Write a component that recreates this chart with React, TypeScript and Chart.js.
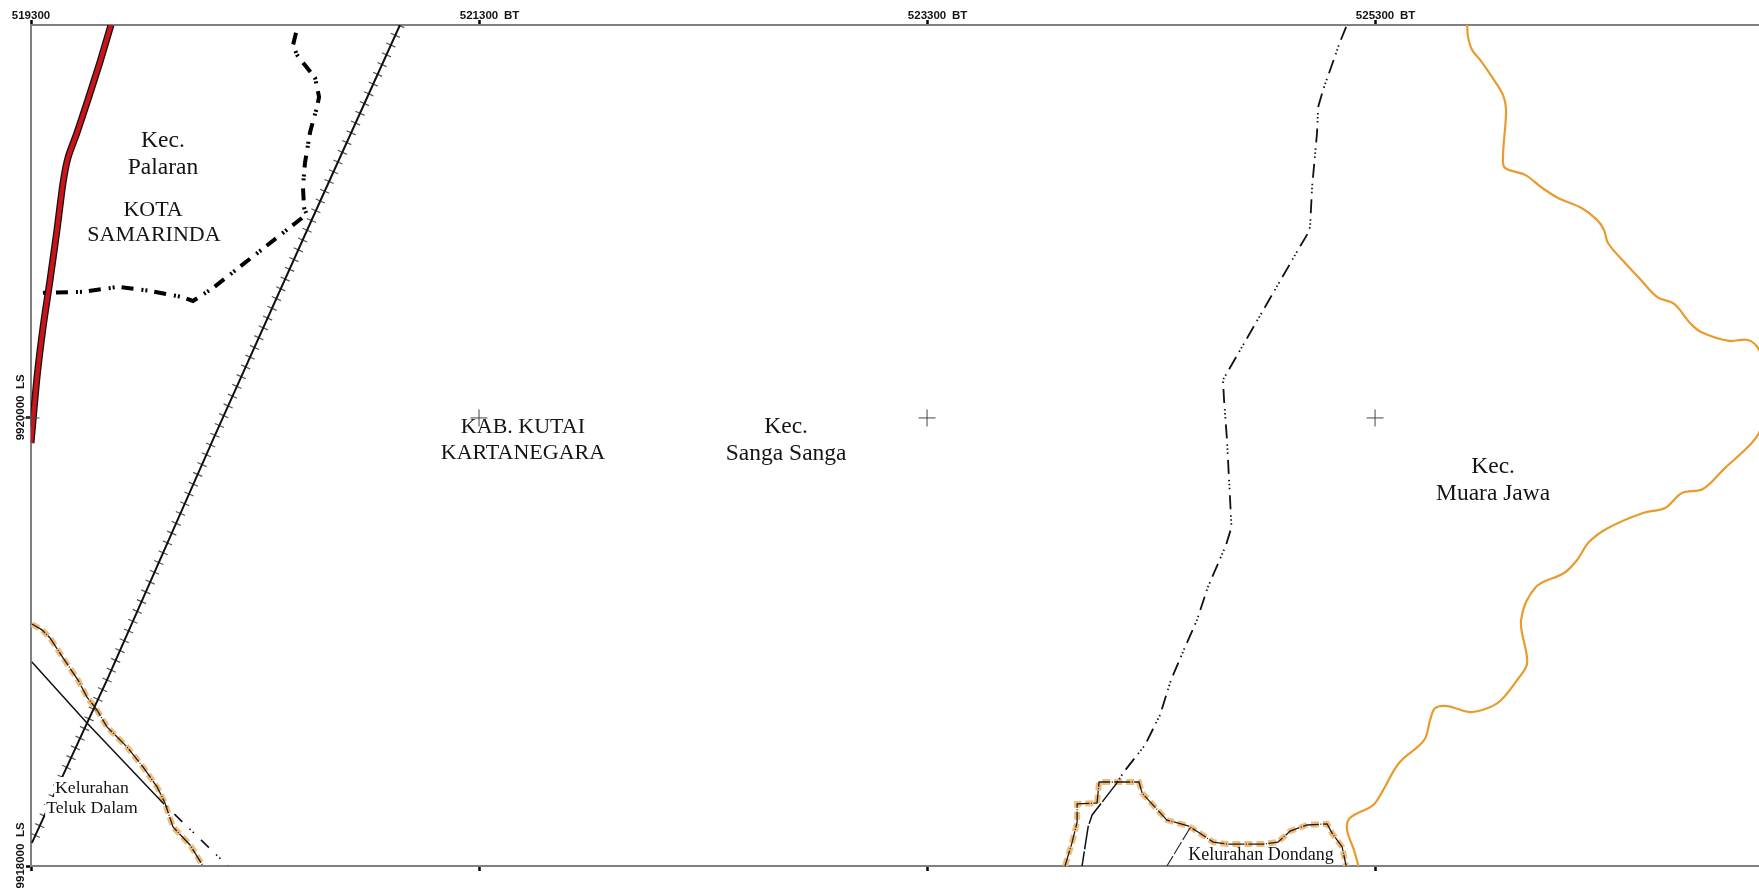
import React, { useEffect, useRef } from "react";
import { Chart, registerables } from "chart.js";

Chart.register(...registerables);

const eastTicks = [519300, 521300, 523300, 525300];
const northTicks = [9918000, 9920000];
const eastMin = 519300;
const eastMax = 527014;
const northMin = 9918000;
const northMax = 9921754;

const roadEast = [519657, 519608, 519554, 519505, 519465, 519443, 519416, 519385, 519354, 519327, 519300];
const roadNorth = [9921754, 9921589, 9921420, 9921272, 9921161, 9921049, 9920839, 9920616, 9920406, 9920183, 9919888];

const cityEast = [520483, 520470, 520487, 520568, 520586, 520577, 520546, 520523, 520514, 520519, 520532, 520510, 520112, 520023, 519974, 519831, 519688, 519532, 519322];
const cityNorth = [9921719, 9921665, 9921621, 9921518, 9921433, 9921388, 9921277, 9921138, 9921031, 9920938, 9920906, 9920893, 9920580, 9920522, 9920540, 9920567, 9920585, 9920563, 9920558];

const railEast = [520947, 520559, 520112, 519639, 519550, 519304];
const railNorth = [9921754, 9920897, 9919902, 9918830, 9918638, 9918103];

const districtEast = [525171, 525142, 525068, 525046, 525041, 525019, 525010, 524996, 524956, 524621, 524626, 524639, 524653, 524659, 524635, 524554, 524505, 524452, 524389, 524340, 524273, 524175, 524148];
const districtNorth = [9921746, 9921674, 9921464, 9921388, 9921272, 9921031, 9920853, 9920817, 9920750, 9920170, 9920080, 9919902, 9919634, 9919513, 9919433, 9919246, 9919098, 9918978, 9918830, 9918674, 9918540, 9918415, 9918371];

const districtLowEast = [524148, 524037, 524019, 523992];
const districtLowNorth = [9918371, 9918228, 9918174, 9918000];

const tellukEast = [519304, 519349, 519385, 519443, 519510, 519550, 519595, 519639, 519729, 519800, 519863, 519898, 519934, 520010, 520068];
const tellukNorth = [9919080, 9919054, 9919018, 9918929, 9918830, 9918754, 9918696, 9918621, 9918531, 9918442, 9918353, 9918281, 9918174, 9918094, 9918000];

const innerEast = [519304, 519550, 519889];
const innerNorth = [9918911, 9918638, 9918281];
const innerDashEast = [519889, 520179];
const innerDashNorth = [9918281, 9918000];

const dondangEast = [523916, 523947, 523970, 523970, 524059, 524068, 524246, 524260, 524309, 524371, 524465, 524510, 524577, 524639, 524800, 524867, 524921, 524996, 525086, 525108, 525153, 525171];
const dondangNorth = [9918000, 9918103, 9918196, 9918277, 9918281, 9918375, 9918375, 9918326, 9918272, 9918205, 9918179, 9918152, 9918107, 9918098, 9918098, 9918107, 9918156, 9918183, 9918188, 9918147, 9918085, 9918000];

const branchEast = [524474, 524371];
const branchNorth = [9918170, 9918000];

const riverEast = [525711, 525715, 525733, 525769, 525822, 525871, 525885, 525871, 525880, 525970, 526046, 526117, 526220, 526291, 526322, 526340, 526412, 526479, 526559, 526635, 526706, 526755, 526880, 526965, 527014, 527086, 527014, 526965, 526863, 526764, 526670, 526595, 526496, 526340, 526255, 526202, 526144, 526019, 525952, 525979, 525934, 525863, 525804, 525724, 525622, 525568, 525546, 525519, 525407, 525336, 525291, 525188, 525175, 525206, 525226];
const riverNorth = [9921754, 9921701, 9921643, 9921598, 9921522, 9921442, 9921375, 9921165, 9921116, 9921085, 9921027, 9920982, 9920938, 9920884, 9920839, 9920781, 9920696, 9920625, 9920540, 9920509, 9920424, 9920384, 9920344, 9920348, 9920304, 9920116, 9919933, 9919871, 9919777, 9919683, 9919665, 9919598, 9919576, 9919509, 9919446, 9919366, 9919308, 9919246, 9919098, 9918906, 9918830, 9918741, 9918705, 9918687, 9918714, 9918705, 9918652, 9918562, 9918460, 9918339, 9918272, 9918214, 9918161, 9918071, 9918000];

const crossEast = [519300, 521300, 523300, 525300];
const crossNorth = [9920000, 9920000, 9920000, 9920000];

const labelTexts = ["Kec.", "Palaran", "KOTA", "SAMARINDA", "KAB. KUTAI", "KARTANEGARA", "Kec.", "Sanga Sanga", "Kec.", "Muara Jawa", "Kelurahan", "Teluk Dalam", "Kelurahan Dondang"];
const labelEast = [519889, 519889, 519845, 519849, 521496, 521496, 522671, 522671, 525827, 525827, 519572, 519572, 524791];
const labelNorth = [9921237, 9921117, 9920929, 9920817, 9919960, 9919844, 9919960, 9919840, 9919782, 9919661, 9918348, 9918259, 9918049];
const labelSizes = [23.5, 23.5, 22, 22, 22, 22, 23.5, 23.5, 23.5, 23.5, 17.7, 17.7, 18];
const haloLabels = ["Kelurahan", "Teluk Dalam"];

const eastSuffix = "BT";
const northSuffix = "LS";

const zip = (xs: number[], ys: number[]) => xs.map((x, i) => ({ x, y: ys[i] }));

const line = (
  xs: number[],
  ys: number[],
  color: string,
  width: number,
  order: number,
  dash: number[] = [],
  tension = 0,
) => ({
  type: "scatter" as const,
  data: zip(xs, ys),
  showLine: true,
  borderColor: color,
  backgroundColor: color,
  borderWidth: width,
  borderDash: dash,
  borderCapStyle: "butt" as const,
  borderJoinStyle: "miter" as const,
  pointRadius: 0,
  tension,
  order,
  xAxisID: "x",
  yAxisID: "y",
});

const textPlugin = {
  id: "mapText",
  afterDraw(chart: any) {
    const { ctx, scales } = chart;
    const x = scales.x;
    const y = scales.y;
    ctx.save();
    const tickFont = 'bold 11.5px "Liberation Sans"';
    ctx.fillStyle = "#141414";
    ctx.font = tickFont;
    ctx.textBaseline = "middle";
    ctx.textAlign = "left";
    eastTicks.slice(1).forEach((v) => {
      ctx.fillText(eastSuffix, x.getPixelForValue(v) + 25, 16);
    });
    northTicks.forEach((v) => {
      const py = y.getPixelForValue(v);
      ctx.save();
      ctx.translate(21, py);
      ctx.rotate(-Math.PI / 2);
      ctx.textAlign = "center";
      ctx.fillText(String(v), 0, 0);
      ctx.textAlign = "left";
      ctx.fillText(northSuffix, 29, 0);
      ctx.restore();
    });
    ctx.textAlign = "center";
    labelTexts.forEach((t, i) => {
      const px = x.getPixelForValue(labelEast[i]);
      const py = y.getPixelForValue(labelNorth[i]);
      ctx.font = `${labelSizes[i]}px "Liberation Serif"`;
      if (haloLabels.includes(t)) {
        const w = ctx.measureText(t).width;
        ctx.fillStyle = "#ffffff";
        ctx.fillRect(px - w / 2 - 1, py - 11, w + 2, 22);
      }
    });
    labelTexts.forEach((t, i) => {
      const px = x.getPixelForValue(labelEast[i]);
      const py = y.getPixelForValue(labelNorth[i]);
      ctx.font = `${labelSizes[i]}px "Liberation Serif"`;
      ctx.fillStyle = "#141414";
      ctx.fillText(t, px, py);
    });
    ctx.restore();
  },
};

export default function App() {
  const ref = useRef<HTMLCanvasElement>(null);

  useEffect(() => {
    if (!ref.current) return;
    const paleOrange = "#f2bd7a";
    const boundaryDash = [14, 6, 1.5, 2.5, 1.5, 2.5, 1.5, 6];
    const cfg: any = {
      type: "scatter",
      data: {
        datasets: [
          line(riverEast, riverNorth, "#e89b2e", 2.2, 10, [], 0.35),
          line(dondangEast, dondangNorth, paleOrange, 6, 12, [8, 4]),
          line(dondangEast, dondangNorth, "#1a1a1a", 1.3, 11, [16, 1.5, 1, 1.5]),
          line(tellukEast, tellukNorth, paleOrange, 6, 12, [8, 4]),
          line(tellukEast, tellukNorth, "#1a1a1a", 1.3, 11, [16, 1.5, 1, 1.5]),
          line(branchEast, branchNorth, "#222222", 1.1, 9, [14, 2.5]),
          line(innerEast, innerNorth, "#111111", 1.5, 8),
          line(innerDashEast, innerDashNorth, "#111111", 1.6, 8, [1.5, 3, 1.5, 10, 11, 10]),
          line(districtEast, districtNorth, "#111111", 1.8, 7, boundaryDash),
          line(districtLowEast, districtLowNorth, "#111111", 1.5, 7, [24, 2]),
          line(railEast, railNorth, "#111111", 2, 6),
          line(railEast, railNorth, "#555555", 10, 6, [1.2, 9.5]),
          line(cityEast, cityNorth, "#000000", 4, 5, [12, 7, 2, 2, 2, 8]),
          line(roadEast, roadNorth, "#171010", 7, 4, [], 0.25),
          line(roadEast, roadNorth, "#c9141a", 4.4, 3, [], 0.25),
          {
            type: "scatter",
            data: zip(crossEast, crossNorth),
            showLine: false,
            pointStyle: "cross",
            pointRadius: 8.5,
            pointBorderColor: "#444444",
            pointBackgroundColor: "#444444",
            pointBorderWidth: 1,
            order: 2,
            clip: false,
            xAxisID: "x",
            yAxisID: "y",
          },
        ],
      },
      options: {
        animation: false,
        responsive: false,
        maintainAspectRatio: false,
        devicePixelRatio: 1,
        layout: { padding: 0, autoPadding: false },
        plugins: { legend: { display: false }, tooltip: { enabled: false }, title: { display: false } },
        scales: {
          x: {
            type: "linear",
            position: "top",
            min: eastMin,
            max: eastMax,
            afterBuildTicks: (s: any) => {
              s.ticks = eastTicks.map((value) => ({ value }));
            },
            afterFit: (s: any) => {
              s.height = 25;
              s.paddingLeft = 0;
              s.paddingRight = 0;
            },
            border: { color: "#808080", width: 2 },
            grid: { drawOnChartArea: false, drawTicks: true, tickLength: 5, tickColor: "#000000", tickWidth: 2.5 },
            ticks: {
              maxRotation: 0,
              minRotation: 0,
              autoSkip: false,
              padding: -3,
              color: "#141414",
              font: { family: "Liberation Sans", size: 11.5, weight: "bold" },
              callback: (v: number) => String(v),
            },
          },
          x2: {
            type: "linear",
            axis: "x",
            position: "bottom",
            min: eastMin,
            max: eastMax,
            afterBuildTicks: (s: any) => {
              s.ticks = eastTicks.map((value) => ({ value }));
            },
            afterFit: (s: any) => {
              s.height = 23;
              s.paddingLeft = 0;
              s.paddingRight = 0;
            },
            border: { color: "#808080", width: 2 },
            grid: { drawOnChartArea: false, drawTicks: true, tickLength: 5, tickColor: "#000000", tickWidth: 2.5 },
            ticks: { display: false, autoSkip: false },
          },
          y: {
            type: "linear",
            position: "left",
            min: northMin,
            max: northMax,
            afterBuildTicks: (s: any) => {
              s.ticks = northTicks.map((value) => ({ value }));
            },
            afterFit: (s: any) => {
              s.width = 31;
            },
            border: { color: "#808080", width: 2 },
            grid: { drawOnChartArea: false, drawTicks: true, tickLength: 5, tickColor: "#000000", tickWidth: 2.5 },
            ticks: { display: false, autoSkip: false },
          },
        },
      },
      plugins: [textPlugin],
    };
    const chart = new Chart(ref.current, cfg);
    return () => chart.destroy();
  }, []);

  return (
    <canvas
      ref={ref}
      width={1759}
      height={889}
      style={{ position: "absolute", left: 0, top: 0, width: 1759, height: 889, display: "block" }}
    />
  );
}
